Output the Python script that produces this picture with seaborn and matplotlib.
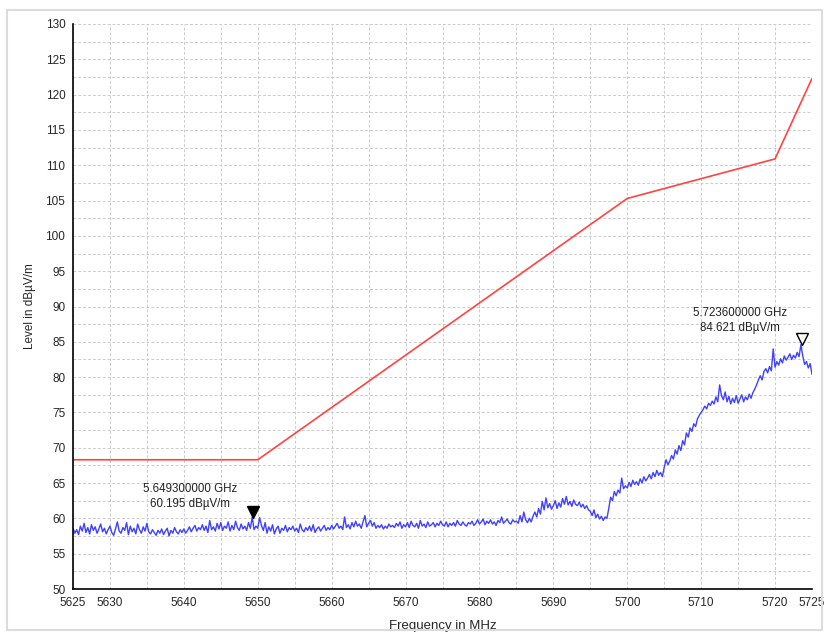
import numpy as np
import pandas as pd
import matplotlib
matplotlib.use("Agg")
import matplotlib.pyplot as plt
import seaborn as sns
from matplotlib.patches import Rectangle

# ---- data ----
freq_start = 5625.0
freq_step = 0.25
level = [
    58.6, 57.9, 58.4, 57.7, 58.9, 58.2, 59.3, 58.0, 58.7, 57.8, 59.1, 58.3, 58.8, 57.9, 58.5, 59.2, 58.1, 58.6, 57.8, 58.4,
    58.9, 58.0, 57.6, 58.5, 59.5, 58.2, 57.9, 58.7, 58.3, 59.4, 57.7, 58.9, 58.1, 58.6, 57.8, 59.2, 58.4, 57.9, 58.8, 58.2,
    59.3, 58.1, 57.8, 58.4, 58.0, 57.6, 58.3, 57.9, 58.5, 57.7, 58.2, 58.6, 57.5, 58.3, 57.9, 58.7, 58.1, 57.8, 58.4, 58.0,
    58.5, 57.9, 58.3, 58.8, 58.1, 58.6, 59.0, 58.2, 58.7, 58.4, 59.1, 58.3, 58.9, 58.0, 59.7, 58.4, 58.8, 58.2, 59.3, 58.5,
    59.4, 58.3, 58.9, 58.6, 59.5, 58.2, 59.0, 58.4, 59.6, 58.7, 58.3, 59.2, 58.5, 58.9, 58.3, 59.4, 58.6, 60.2, 58.4, 58.9,
    58.6, 60.1, 59.0, 58.3, 59.4, 57.9, 58.8, 58.2, 59.1, 57.8, 58.5, 58.9, 57.9, 58.6, 58.3, 59.0, 58.1, 58.7, 58.4, 58.9,
    58.2, 58.6, 58.0, 59.2, 58.4, 58.1, 58.7, 58.3, 58.9, 58.2, 59.1, 58.0, 58.5, 58.8, 58.2, 58.6, 59.0, 58.3, 58.7, 58.4,
    59.0, 58.5, 58.9, 59.3, 58.6, 58.9, 58.4, 60.2, 58.7, 59.1, 58.5, 59.4, 58.8, 59.6, 58.9, 59.2, 58.6, 59.5, 60.4, 58.8,
    59.3, 59.7, 58.9, 59.4, 58.6, 59.0, 58.7, 59.1, 58.5, 58.9, 58.6, 59.2, 58.8, 59.0, 58.7, 59.3, 58.9, 59.5, 58.6, 59.1,
    58.8, 59.4, 58.7, 59.6, 59.0, 58.8, 59.3, 58.6, 59.7, 58.9, 59.2, 58.7, 59.5, 58.9, 59.1, 59.4, 58.8, 59.3, 59.0, 59.6,
    59.1, 58.9, 59.5, 58.8, 59.3, 59.0, 59.4, 58.9, 59.7, 59.2, 59.0, 59.5, 59.1, 58.9, 59.4, 59.2, 59.6, 59.0, 59.3, 59.8,
    59.2, 59.5, 59.9, 59.1, 59.6, 59.3, 59.8, 59.2, 59.5, 59.0, 59.7, 59.4, 60.2, 59.3, 59.6, 59.9, 59.4, 59.2, 59.8, 59.5,
    59.6, 59.3, 60.4, 59.5, 60.9, 59.8, 59.4, 60.0, 59.5, 60.3, 60.9, 60.2, 61.4, 60.6, 62.4, 61.2, 62.9, 61.5, 62.1, 61.3,
    61.8, 62.5, 61.4, 62.2, 61.6, 62.8, 62.0, 63.1, 61.9, 62.4, 61.7, 62.6, 62.0, 61.8, 62.3, 61.6, 62.0, 61.4, 61.8, 61.2,
    61.0, 60.4, 61.2, 60.1, 60.6, 59.9, 60.3, 59.7, 60.2, 60.0, 61.4, 63.0, 62.5, 63.8, 63.2, 64.0, 63.6, 65.7, 64.2, 64.6,
    64.3, 65.1, 64.5, 65.4, 64.8, 65.2, 64.7, 65.6, 65.0, 65.9, 65.3, 65.7, 66.2, 65.6, 66.5, 65.9, 66.8, 66.1, 66.5, 65.9,
    67.2, 68.3, 67.6, 68.1, 68.9, 68.4, 69.7, 69.1, 70.3, 69.6, 71.0, 70.4, 72.1, 71.5, 72.8, 72.3, 73.4, 73.0, 74.1, 74.6,
    75.0, 75.4, 75.9, 75.5, 76.3, 76.0, 76.6, 76.2, 77.2, 76.5, 78.9, 77.4, 76.8, 77.9, 76.5, 77.3, 76.2, 77.0, 76.4, 77.4,
    76.3, 76.9, 77.5, 76.5, 77.2, 76.8, 77.6, 77.0, 77.8, 78.3, 78.9, 79.6, 80.2, 79.6, 80.8, 81.2, 80.6, 81.5, 80.9, 84.0,
    81.4, 82.2, 81.7, 82.6, 82.0, 83.0, 82.4, 82.8, 83.3, 82.5, 83.1, 82.7, 83.5, 82.9, 84.6, 83.0, 81.8, 82.2, 81.3, 81.9,
    80.4,
]
freq = [freq_start + i * freq_step for i in range(len(level))]

limit_freq = [5625, 5650, 5700, 5720, 5725]
limit_level = [68.3, 68.3, 105.3, 110.9, 122.3]

markers_freq = [5649.3, 5723.6]
markers_level = [60.195, 84.621]
marker_labels = ["5.649300000 GHz\n60.195 dBµV/m", "5.723600000 GHz\n84.621 dBµV/m"]
marker_text_x = [5640.8, 5715.3]
marker_text_y = [63.1, 88.0]

x_ticks = [5625, 5630, 5635, 5640, 5645, 5650, 5655, 5660, 5665, 5670, 5675, 5680,
           5685, 5690, 5695, 5700, 5705, 5710, 5715, 5720, 5725]
x_labels = ["5625", "5630", "", "5640", "", "5650", "", "5660", "", "5670", "", "5680",
            "", "5690", "", "5700", "", "5710", "", "5720", "5725"]
y_major = list(range(50, 131, 5))

# ---- plot ----
sns.set_theme(style="white")
plt.rcParams['font.family'] = ['Liberation Sans', 'DejaVu Sans']

fig = plt.figure(figsize=(8.25, 6.33), dpi=100)
fig.patches.append(Rectangle((7 / 825, 3 / 633), 815 / 825, 620 / 633, transform=fig.transFigure,
                             fill=False, edgecolor='#dcdcdc', linewidth=1.5))
ax = fig.add_axes([73 / 825, 1 - 589 / 633, (812 - 73) / 825, (589 - 24) / 633])

df_meas = pd.DataFrame({"Frequency": freq, "Level": level})
df_lim = pd.DataFrame({"Frequency": limit_freq, "Level": limit_level})
sns.lineplot(data=df_lim, x="Frequency", y="Level", ax=ax, color='#ff4444', linewidth=1.2)
sns.lineplot(data=df_meas, x="Frequency", y="Level", ax=ax, color='#4040ff', linewidth=1.0)

# markers (triangles sit just above the marked point)
ax.plot([markers_freq[0]], [markers_level[0] + 0.75], marker='v', color='black', markersize=9, linestyle='none')
ax.plot([markers_freq[1]], [markers_level[1] + 0.75], marker='v', markerfacecolor='white',
        markeredgecolor='black', markersize=9, linestyle='none', markeredgewidth=1)
for tx, ty, lab in zip(marker_text_x, marker_text_y, marker_labels):
    ax.text(tx, ty, lab, ha='center', va='center', fontsize=8.3, color='#222222', linespacing=1.35)

ax.set_xlim(5625, 5725)
ax.set_ylim(50, 130)
ax.set_xticks(x_ticks)
ax.set_xticklabels(x_labels)
ax.set_yticks(y_major)
ax.set_yticks([v + 2.5 for v in y_major[:-1]], minor=True)
ax.tick_params(axis='both', which='both', direction='inout', length=5, width=1, color='black',
               labelsize=8.5, pad=3)
ax.tick_params(axis='both', which='minor', length=4)
ax.grid(True, which='both', color='#cccccc', linestyle=(0, (3, 2)), linewidth=0.7)
for s in ['top', 'right']:
    ax.spines[s].set_visible(False)
for s in ['left', 'bottom']:
    ax.spines[s].set_color('black')
    ax.spines[s].set_linewidth(1.2)

ax.set_xlabel("Frequency in MHz", fontsize=9.5, labelpad=8)
ax.set_ylabel("Level in dBµV/m", fontsize=8.5, labelpad=7)

fig.savefig("out.png", dpi=100)
